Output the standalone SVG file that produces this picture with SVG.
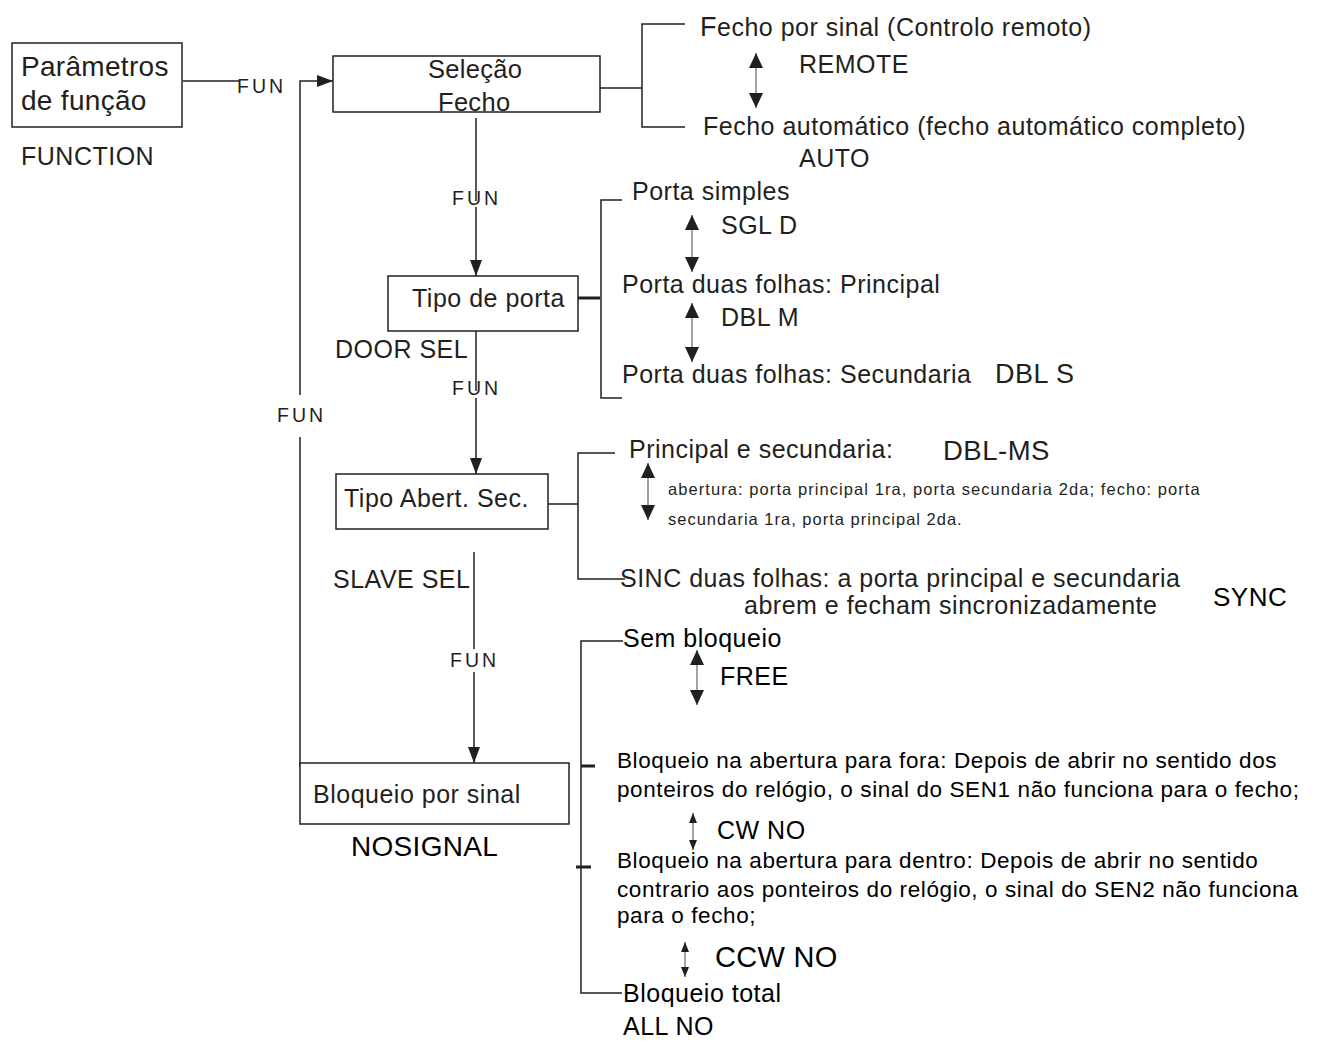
<svg xmlns="http://www.w3.org/2000/svg" width="1321" height="1047" viewBox="0 0 1321 1047">
<style>
.t{font-family:"Liberation Sans",Arial,Helvetica,sans-serif;fill:#231f20;letter-spacing:0.5px;font-size:25px}
.k{fill:#000}
.fun{font-size:19.5px;letter-spacing:3px}
.sm{font-size:16.5px;letter-spacing:0.3px}
.md{font-size:22.5px;letter-spacing:0.6px}
.box{fill:#fff;stroke:#231f20;stroke-width:1.5}
.ln{fill:none;stroke:#231f20;stroke-width:1.5}
.tk{fill:none;stroke:#231f20;stroke-width:3}
.dbl{stroke:#8c8c8c;stroke-width:1.6}
</style>
<defs>
<marker id="ah" markerUnits="userSpaceOnUse" markerWidth="16" markerHeight="12" refX="16" refY="6" orient="auto"><path d="M0,0 L16,6 L0,12 z" fill="#231f20"/></marker>
<marker id="big" markerUnits="userSpaceOnUse" markerWidth="15" markerHeight="14" refX="15" refY="7" orient="auto-start-reverse"><path d="M0,0 L15,7 L0,14 z" fill="#231f20"/></marker>
<marker id="small" markerUnits="userSpaceOnUse" markerWidth="10" markerHeight="8" refX="10" refY="4" orient="auto-start-reverse"><path d="M0,0 L10,4 L0,8 z" fill="#231f20"/></marker>
</defs>
<rect width="1321" height="1047" fill="#fff"/>

<g id="connectors">
<path class="ln" d="M183,81 H240"/>
<path class="ln" d="M300,395 V81 H333" marker-end="url(#ah)"/>
<path class="ln" d="M300,437 V767"/>
<path class="ln" d="M600,88 H642"/>
<path class="ln" d="M685,24 H642 V127 H685"/>
<path class="ln" d="M476,118 V201"/>
<path class="ln" d="M476,207 V276" marker-end="url(#ah)"/>
<path class="tk" d="M572,298 H600"/>
<path class="ln" d="M622,200 H601 V398 H622"/>
<path class="ln" d="M476,323 V391"/>
<path class="ln" d="M476,398 V474" marker-end="url(#ah)"/>
<path class="ln" d="M548,504 H578"/>
<path class="ln" d="M615,453 H578 V579 H625"/>
<path class="ln" d="M474,552 V649"/>
<path class="ln" d="M474,672 V763" marker-end="url(#ah)"/>
<path class="ln" d="M623,641 H581 V993 H622"/>
<path class="tk" d="M581,766 H595"/>
<path class="tk" d="M576,867 H591"/>
<line class="dbl" x1="756" y1="53" x2="756" y2="108" marker-start="url(#big)" marker-end="url(#big)"/>
<line class="dbl" x1="692" y1="215" x2="692" y2="272" marker-start="url(#big)" marker-end="url(#big)"/>
<line class="dbl" x1="692" y1="303" x2="692" y2="362" marker-start="url(#big)" marker-end="url(#big)"/>
<line class="dbl" x1="648" y1="463" x2="648" y2="520" marker-start="url(#big)" marker-end="url(#big)"/>
<line class="dbl" x1="697" y1="650" x2="697" y2="705" marker-start="url(#big)" marker-end="url(#big)"/>
<line class="dbl" x1="693" y1="813" x2="693" y2="850" marker-start="url(#small)" marker-end="url(#small)"/>
<line class="dbl" x1="685" y1="942" x2="685" y2="977" marker-start="url(#small)" marker-end="url(#small)"/>
<text class="t fun" x="237" y="93">FUN</text>
<text class="t fun" x="452" y="205">FUN</text>
<text class="t fun" x="452" y="395">FUN</text>
<text class="t fun" x="277" y="422">FUN</text>
<text class="t fun" x="450" y="667">FUN</text>
</g>

<g id="node-parametros">
<rect class="box" x="12" y="43" width="170" height="84"/>
<text class="t" x="21" y="76" style="font-size:28px;letter-spacing:0.3px">Parâmetros</text>
<text class="t" x="21" y="110" style="font-size:28px;letter-spacing:0.3px">de função</text>
<text class="t" x="21" y="165">FUNCTION</text>
</g>

<g id="node-selecao">
<rect class="box" x="333" y="56" width="267" height="56"/>
<text class="t" x="428" y="78" style="font-size:25.5px;letter-spacing:0.3px">Seleção</text>
<text class="t" x="438" y="111" style="font-size:25.5px;letter-spacing:0.3px">Fecho</text>
</g>

<g id="opts-fecho">
<text class="t" x="700" y="36"><tspan style="font-size:27px">F</tspan>echo por sinal (Controlo remoto)</text>
<text class="t" x="799" y="73">REMOTE</text>
<text class="t" x="703" y="135">Fecho automático (fecho automático completo)</text>
<text class="t" x="799" y="167">AUTO</text>
</g>

<g id="node-tipo-porta">
<rect class="box" x="388" y="276" width="190" height="55"/>
<text class="t" x="412" y="307">Tipo de porta</text>
<text class="t" x="335" y="358">DOOR SEL</text>
</g>

<g id="opts-porta">
<text class="t" x="632" y="200">Porta simples</text>
<text class="t" x="721" y="234">SGL D</text>
<text class="t" x="622" y="293">Porta duas folhas: Principal</text>
<text class="t" x="721" y="326">DBL M</text>
<text class="t" x="622" y="383">Porta duas folhas: Secundaria</text>
<text class="t" x="995" y="383" style="font-size:27px">DBL S</text>
</g>

<g id="node-tipo-abert">
<rect class="box" x="336" y="474" width="212" height="55"/>
<text class="t" x="344" y="507">Tipo Abert. Sec.</text>
<text class="t" x="333" y="588">SLAVE SEL</text>
</g>

<g id="opts-abert">
<text class="t" x="629" y="458">Principal e secundaria:</text>
<text class="t" x="943" y="460" style="font-size:27.5px">DBL-MS</text>
<text class="t sm" x="668" y="495" textLength="532">abertura: porta principal 1ra, porta secundaria 2da;  fecho: porta</text>
<text class="t sm" x="668" y="525" textLength="294">secundaria 1ra, porta principal 2da.</text>
<text class="t" x="620" y="587">SINC duas folhas: a porta principal e secundaria</text>
<text class="t" x="744" y="614">abrem e fecham sincronizadamente</text>
<text class="t k" x="1213" y="606" style="font-size:26px">SYNC</text>
</g>

<g id="node-bloqueio">
<rect class="box" x="300" y="763" width="269" height="61"/>
<text class="t" x="313" y="803">Bloqueio por sinal</text>
<text class="t k" x="351" y="856" style="font-size:28px;letter-spacing:0.3px">NOSIGNAL</text>
</g>

<g id="opts-bloqueio">
<text class="t k" x="623" y="647">Sem bloqueio</text>
<text class="t k" x="720" y="685">FREE</text>
<text class="t k md" x="617" y="768">Bloqueio na abertura para fora: Depois de abrir no sentido dos</text>
<text class="t k md" x="617" y="797">ponteiros do relógio, o  sinal do SEN1 não funciona para o fecho;</text>
<text class="t k" x="717" y="839">CW NO</text>
<text class="t k md" x="617" y="868">Bloqueio na abertura para dentro: Depois de abrir no sentido</text>
<text class="t k md" x="617" y="897">contrario aos ponteiros do relógio, o sinal do SEN2 não funciona</text>
<text class="t k md" x="617" y="923">para o fecho;</text>
<text class="t k" x="715" y="967" style="font-size:29px;letter-spacing:0.3px">CCW NO</text>
<text class="t k" x="623" y="1002">Bloqueio total</text>
<text class="t k" x="623" y="1035">ALL NO</text>
</g>
</svg>
